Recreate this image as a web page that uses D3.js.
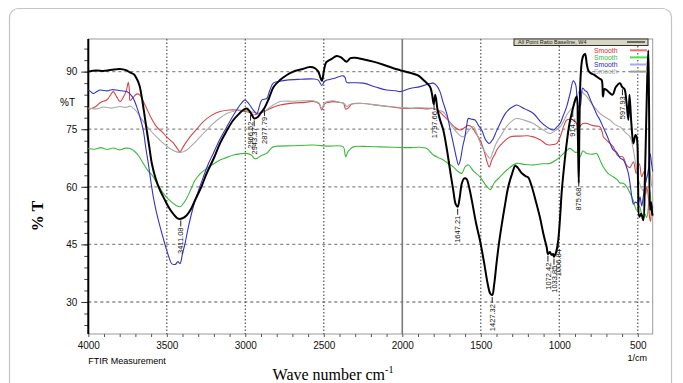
<!DOCTYPE html>
<html>
<head>
<meta charset="utf-8">
<script src="https://cdn.jsdelivr.net/npm/d3@7"></script>
<style>
  body { margin: 0; background: #fff; }
  svg { display: block; }
</style>
</head>
<body>
<svg id="chart" width="683" height="383"></svg>
<script>
// --- data: [wave number (cm-1), %T] ---
const blackSpectrum = [[4000,90.0],[3950,90.3],[3900,90.2],[3850,90.5],[3800,90.7],[3760,90.4],[3735,89.8],[3710,89.3],[3692,88.2],[3675,86.5],[3660,83.5],[3645,79.5],[3628,74.8],[3610,70],[3596,66.2],[3570,62],[3543,59.1],[3515,56.8],[3490,54.8],[3460,53],[3427,51.7],[3400,51.8],[3373,52.6],[3345,54.3],[3320,56.5],[3280,60],[3246,63.5],[3200,67.5],[3161,71.3],[3120,74.5],[3076,77.4],[3040,79],[3013,80],[2990,80.4],[2966,79.3],[2943,77.8],[2920,78.2],[2900,79.3],[2877,80.6],[2850,83],[2820,86],[2779,87.8],[2740,89],[2694,90],[2640,90.6],[2590,91.2],[2560,91],[2535,90],[2522,88.5],[2512,87.6],[2500,90],[2485,92.4],[2450,93.3],[2418,94.1],[2390,93.7],[2365,92.8],[2354,92.6],[2330,93.5],[2300,93.6],[2250,93.2],[2185,92.6],[2120,91.8],[2057,90.9],[2015,90.4],[1951,89.7],[1900,89],[1860,87.6],[1824,86.1],[1810,84],[1800,81.5],[1790,84],[1775,80],[1760,77.5],[1739,74.8],[1715,69.5],[1696,64.4],[1675,59],[1660,55.5],[1647,54.8],[1635,57],[1620,61],[1605,62.2],[1590,62],[1575,60],[1555,56],[1530,50.5],[1505,46],[1480,40.5],[1455,34.5],[1440,32.2],[1427,31.8],[1415,34.5],[1400,40],[1385,45],[1367,50],[1345,55.5],[1325,60],[1300,63.5],[1280,65.5],[1265,65],[1240,63.6],[1215,62.8],[1197,62.4],[1175,60],[1150,56.3],[1123,52],[1100,47.5],[1080,44.2],[1072,42.5],[1060,43],[1050,42.3],[1040,42.5],[1034,41.8],[1020,43],[1007,46],[995,52],[984,59],[970,65],[953,71.3],[935,76.5],[914,80.3],[900,82.5],[889,83.5],[882,74],[876,61],[872,75],[865,88],[855,93],[845,94.3],[836,94.6],[825,92],[815,90.3],[800,89.6],[780,89.2],[762,88.7],[745,88.2],[730,87.8],[722,83.5],[712,85.5],[698,85.2],[680,84.5],[660,84],[640,86],[613,87],[600,86],[585,85.5],[572,82],[560,77.4],[553,84],[540,76],[528,71.3],[515,73.5],[507,73],[498,60],[490,52.2],[478,53],[465,51.3],[455,62],[447,75.7],[440,88],[433,95.5],[428,80],[422,54],[415,56],[408,53],[405,52.5]];

const redSpectrum = [[4000,80.2],[3980,80.4],[3950,81],[3920,82],[3883,82.6],[3860,83.8],[3841,84.8],[3820,83.5],[3798,82.2],[3775,83.5],[3758,85],[3745,87.2],[3738,85],[3734,82.5],[3710,83.5],[3690,84.2],[3671,83.9],[3650,82.3],[3628,80.4],[3600,78],[3564,75.6],[3530,74.3],[3501,73],[3460,71.5],[3430,69.8],[3416,69.1],[3390,70.8],[3352,73],[3310,75],[3267,77],[3215,78.6],[3161,79.6],[3100,80],[3055,80],[3000,79.6],[2970,79.3],[2949,78.7],[2920,79],[2885,79.5],[2840,80.4],[2779,81.3],[2700,81.8],[2620,82],[2567,82.2],[2530,81.6],[2513,80],[2495,81.6],[2470,82],[2439,82.2],[2400,82],[2375,81.8],[2360,80.2],[2345,80.5],[2320,81.6],[2248,81.7],[2150,81.2],[2050,80.7],[1951,80.4],[1900,80.5],[1850,80.3],[1802,80.4],[1770,79.8],[1739,78.6],[1700,77],[1665,75.5],[1632,74.8],[1600,75.5],[1580,76],[1558,75.6],[1530,73.8],[1505,72.2],[1480,69.5],[1460,66.5],[1446,65.2],[1430,67],[1410,68.5],[1398,69.6],[1360,71.5],[1314,73],[1250,73.2],[1200,73.3],[1165,73],[1120,72.2],[1080,71],[1059,70.9],[1040,71],[1016,71.3],[990,73.5],[970,76],[953,77.4],[930,77.6],[911,77.4],[890,76.5],[879,72],[870,75.5],[850,76.5],[825,76.5],[790,76],[760,75.8],[741,75.6],[725,74],[719,73],[690,71.8],[656,70.4],[625,68],[595,67.8],[570,65.5],[550,65],[528,66.5],[510,63.5],[490,66],[475,62.6],[460,64],[450,58],[443,60],[432,57],[425,52],[418,51],[412,55],[405,54.5]];

const greenSpectrum = [[4000,70],[3960,69.8],[3920,70.2],[3880,69.7],[3840,70.1],[3800,69.6],[3770,70],[3734,70],[3710,69.4],[3692,68.7],[3670,67.5],[3650,66.1],[3620,64.2],[3586,62.6],[3555,60.3],[3522,58.3],[3490,56.8],[3459,55.7],[3435,55],[3416,54.8],[3395,55.6],[3373,57],[3345,59.5],[3320,61.7],[3285,63.5],[3246,64.8],[3200,66],[3161,67],[3120,67.6],[3076,68.3],[3030,68.6],[2991,68.7],[2960,68.2],[2940,67.3],[2927,67.4],[2900,68.1],[2864,68.7],[2840,69.8],[2822,70.4],[2700,70.7],[2567,70.9],[2480,70.6],[2376,70.4],[2365,68.5],[2360,67.8],[2345,69.2],[2312,70.4],[2220,70.5],[2142,70.4],[2050,70.3],[1951,70.2],[1900,70.3],[1844,70],[1820,69],[1802,68.3],[1770,67.6],[1739,67],[1705,66],[1675,65.2],[1645,64],[1621,63.5],[1600,65.2],[1579,65.7],[1545,64],[1505,62.6],[1470,60.5],[1445,59.4],[1437,59.3],[1415,61],[1377,62.6],[1330,64.5],[1271,66.1],[1220,65.8],[1165,65.7],[1110,66],[1059,66.1],[1020,67],[995,67.8],[960,69.2],[932,70],[900,69],[880,69],[868,67.8],[850,69.3],[825,68.7],[790,68.5],[762,68.7],[741,67],[720,65.2],[690,63.5],[656,62.6],[630,61.8],[613,61],[592,60.9],[570,60],[549,58.3],[530,56.5],[507,53.9],[490,55],[475,52.5],[465,51.3],[455,53],[443,52],[430,56],[422,59],[412,53],[405,55]];

const blueSpectrum = [[4000,85.2],[3985,84.8],[3968,84.3],[3945,84.8],[3925,85.2],[3880,85],[3850,85.3],[3819,85.2],[3790,85],[3755,84.8],[3720,83.5],[3692,80.9],[3670,78],[3650,74.8],[3635,70.5],[3618,66.1],[3600,61],[3586,57.4],[3565,53.2],[3543,49.6],[3520,46.2],[3501,43.5],[3485,41.5],[3469,40],[3445,39.8],[3430,40.5],[3416,40],[3400,42.6],[3384,45.2],[3360,50],[3331,54.8],[3300,58.8],[3267,62.6],[3235,66],[3204,68.7],[3160,72.5],[3118,75.6],[3085,78],[3055,80],[3030,81.5],[3002,82.6],[2975,81.5],[2949,80],[2927,79.1],[2910,81],[2895,82.6],[2864,83],[2845,85],[2822,87],[2780,87.5],[2736,87.8],[2650,88],[2567,88.1],[2535,87.8],[2513,86.4],[2495,87.5],[2481,87.8],[2430,88.3],[2376,88.9],[2365,88.5],[2354,87.2],[2320,87.1],[2248,87],[2170,86],[2099,85.2],[2040,85],[2015,84.8],[1951,85.6],[1887,86.1],[1840,86.7],[1802,87],[1780,86.3],[1760,84.8],[1740,82],[1717,79.1],[1695,75],[1675,71.3],[1655,67.5],[1642,65.7],[1630,67],[1615,70.5],[1601,73],[1590,76],[1579,77.8],[1560,77.6],[1537,77.4],[1515,76],[1494,74.8],[1470,72.3],[1446,71.3],[1430,72],[1420,72.6],[1400,74.5],[1377,76.5],[1345,79],[1314,80.4],[1290,81],[1271,81.3],[1220,80.3],[1165,79.1],[1120,77],[1080,75.6],[1055,75],[1038,74.8],[1015,75.6],[995,76.5],[975,78.5],[953,80.9],[930,84.5],[911,87.6],[895,86.5],[880,80.9],[868,81],[851,85.7],[835,85],[825,84.8],[800,82.5],[783,80.9],[760,78.8],[741,77.4],[720,75.5],[698,73.5],[676,71.3],[656,69.6],[634,69],[612,67.5],[592,67],[575,65.5],[560,63.5],[545,59.5],[538,57.4],[528,55.5],[515,56],[497,55.7],[486,57.4],[475,55],[465,57.4],[455,60],[445,62],[433,64],[422,68.7],[412,66],[405,64]];

const graySpectrum = [[4000,80.5],[3950,80.3],[3900,80.8],[3850,80.5],[3800,80.9],[3760,80.7],[3734,81],[3700,80],[3671,78.3],[3640,76.5],[3607,74.8],[3565,73],[3522,71.3],[3480,70],[3437,69.1],[3405,69],[3373,69.6],[3330,71.2],[3288,73],[3245,74.8],[3204,76.5],[3160,78],[3118,79.1],[3075,79.7],[3034,80],[2990,79.9],[2949,79.4],[2920,79.2],[2885,79.5],[2840,80.8],[2779,82.2],[2700,82.3],[2620,82.4],[2567,82.4],[2530,81.8],[2513,80.4],[2495,81.9],[2470,82.3],[2439,82.4],[2400,82],[2370,81.7],[2354,80.9],[2330,81.5],[2248,81.7],[2150,81.2],[2050,80.8],[1951,80.5],[1880,80.6],[1802,80.4],[1770,80],[1739,79.5],[1720,78.5],[1696,76.5],[1660,74.5],[1630,73.3],[1611,73],[1580,74.5],[1548,75.7],[1510,72],[1480,69.5],[1455,68],[1441,67.4],[1420,69.5],[1400,71.5],[1377,73],[1330,76],[1290,77.5],[1271,77.8],[1220,77.3],[1165,76.5],[1110,75],[1059,73.9],[1030,74.5],[995,75.6],[970,77.3],[953,78.7],[930,80],[911,80.9],[890,83],[868,85.2],[845,84.3],[825,83.5],[800,82],[783,81],[760,80],[741,79.1],[710,78.2],[677,77.4],[645,76.2],[613,75.6],[580,74.2],[549,73],[530,70],[507,64.4],[490,61],[465,59],[445,62],[430,65],[422,64],[410,60],[405,61]];

const legendNames = ["Smooth", "Smooth", "Smooth", "Smooth"];
const legendTitle = "All Point Ratio Baseline, W4";

const peakWaves  = [3411.08, 2966.52, 2943.37, 2877.79, 1797.66, 1647.21, 1427.32, 1072.42, 1033.85, 1006.84, 914.2, 875.68, 597.93];
const peakLabels = ["3411.08", "2966.52", "2943.37", "2877.79", "1797.66", "1647.21", "1427.32", "1072.42", "1033.85", "1006.84", "914.2", "875.68", "597.93"];

const xTickValues = [4000, 3500, 3000, 2500, 2000, 1500, 1000, 500];
const yTickValues = [30, 45, 60, 75, 90];

// --- layout ---
const svg = d3.select('#chart');
const plot = { left: 88.3, right: 652.7, top: 39, bottom: 334 };

const x = d3.scaleLinear().domain([4000, 405]).range([plot.left, plot.right]);
const y = d3.scaleLinear().domain([21.66, 98.5]).range([plot.bottom, plot.top]);

// outer figure frame
svg.append('rect')
    .attr('x', 9.5).attr('y', 8.5)
    .attr('width', 662).attr('height', 420)
    .attr('rx', 9)
    .attr('fill', 'none')
    .attr('stroke', '#c4c4c4')
    .attr('stroke-width', 1.2);

// plot frame
svg.append('rect')
    .attr('x', plot.left).attr('y', plot.top)
    .attr('width', plot.right - plot.left).attr('height', plot.bottom - plot.top)
    .attr('fill', 'none')
    .attr('stroke', '#9a9a9a')
    .attr('stroke-width', 1);

// grid
const grid = svg.append('g').attr('class', 'grid');
grid.selectAll('line.h')
    .data(yTickValues)
    .enter().append('line')
    .attr('class', 'h')
    .attr('x1', plot.left).attr('x2', plot.right)
    .attr('y1', d => y(d)).attr('y2', d => y(d))
    .attr('stroke', '#8a8a8a')
    .attr('stroke-width', 1.3)
    .attr('stroke-dasharray', '3,3');

grid.selectAll('line.v')
    .data(xTickValues.filter(d => d !== 4000))
    .enter().append('line')
    .attr('class', 'v')
    .attr('x1', d => x(d)).attr('x2', d => x(d))
    .attr('y1', plot.top).attr('y2', plot.bottom)
    .attr('stroke', d => d === 2000 ? '#7a7a7a' : '#555')
    .attr('stroke-width', d => d === 2000 ? 1.6 : 1.2)
    .attr('stroke-dasharray', d => d === 2000 ? null : '1.5,2');

// x axis
const xMinor = d3.range(4000, 400, -100);
svg.append('g')
    .attr('transform', `translate(0,${plot.bottom})`)
    .call(d3.axisBottom(x).tickValues(xMinor).tickSize(3).tickFormat(''))
    .call(g => g.select('.domain').remove())
    .call(g => g.selectAll('line').attr('stroke', '#555'));

svg.append('g')
    .attr('transform', `translate(0,${plot.bottom})`)
    .call(d3.axisBottom(x).tickValues(xTickValues).tickSize(0).tickPadding(8).tickFormat(d3.format('d')))
    .call(g => g.select('.domain').remove())
    .call(g => g.selectAll('text')
        .attr('font-family', 'Liberation Sans, Arial, sans-serif')
        .attr('font-size', 10)
        .attr('fill', '#111'));

// y axis
const yMinor = d3.range(24, 98, 3);
svg.append('g')
    .attr('transform', `translate(${plot.left},0)`)
    .call(d3.axisLeft(y).tickValues(yMinor).tickSize(4).tickFormat(''))
    .call(g => g.select('.domain').remove())
    .call(g => g.selectAll('line').attr('stroke', '#444'));

svg.append('g')
    .attr('transform', `translate(${plot.left},0)`)
    .call(d3.axisLeft(y).tickValues(yTickValues).tickSize(7).tickPadding(4).tickFormat(d3.format('d')))
    .call(g => g.select('.domain').remove())
    .call(g => g.selectAll('line').attr('stroke', '#333'))
    .call(g => g.selectAll('text')
        .attr('font-family', 'Liberation Sans, Arial, sans-serif')
        .attr('font-size', 10)
        .attr('fill', '#111'));

svg.append('line')
    .attr('x1', plot.left).attr('x2', plot.left)
    .attr('y1', plot.top).attr('y2', plot.bottom)
    .attr('stroke', '#000')
    .attr('stroke-width', 2);

// small texts in the spectrometer style
const sans = 'Liberation Sans, Arial, sans-serif';
svg.append('text')
    .attr('x', 75).attr('y', y(82) + 3.5)
    .attr('text-anchor', 'end')
    .attr('font-family', sans).attr('font-size', 10)
    .text('%T');

svg.append('text')
    .attr('x', plot.left).attr('y', 364)
    .attr('font-family', sans).attr('font-size', 9)
    .text('FTIR Measurement');

svg.append('text')
    .attr('x', 647).attr('y', 361)
    .attr('text-anchor', 'end')
    .attr('font-family', sans).attr('font-size', 9)
    .text('1/cm');

// axis titles
const serif = 'Liberation Serif, Times New Roman, serif';
svg.append('text')
    .attr('transform', 'translate(43,216) rotate(-90)')
    .attr('text-anchor', 'middle')
    .attr('font-family', serif).attr('font-size', 16).attr('font-weight', 'bold')
    .text('% T');

const xTitle = svg.append('text')
    .attr('x', 333).attr('y', 380)
    .attr('text-anchor', 'middle')
    .attr('font-family', serif).attr('font-size', 16);
xTitle.append('tspan').text('Wave number cm');
xTitle.append('tspan').attr('font-size', 10).attr('dy', -7).text('-1');

// spectra
const line = d3.line()
    .x(d => x(d[0]))
    .y(d => y(d[1]))
    .curve(d3.curveCatmullRom.alpha(0.5));

const spectra = [
    { data: greenSpectrum, color: '#3cb93c', width: 1.1 },
    { data: redSpectrum,   color: '#d64545', width: 1.1 },
    { data: graySpectrum,  color: '#a9a9a9', width: 1.1 },
    { data: blueSpectrum,  color: '#3434c4', width: 1.1 },
    { data: blackSpectrum, color: '#000',    width: 2 }
];

const gSpectra = svg.append('g').attr('class', 'spectra');
gSpectra.selectAll('path')
    .data(spectra)
    .enter().append('path')
    .attr('d', d => line(d.data))
    .attr('fill', 'none')
    .attr('stroke', d => d.color)
    .attr('stroke-width', d => d.width)
    .attr('stroke-linejoin', 'round');

// peak labels on the black spectrum
function valueAt(data, wn) {
    for (let i = 0; i < data.length - 1; i++) {
        const a = data[i], b = data[i + 1];
        if (wn <= a[0] && wn >= b[0]) {
            const t = (a[0] - wn) / (a[0] - b[0]);
            return a[1] + t * (b[1] - a[1]);
        }
    }
    return data[data.length - 1][1];
}

const gPeaks = svg.append('g').attr('class', 'peaks');
peakWaves.forEach((wn, i) => {
    const px = x(wn);
    const py = y(valueAt(blackSpectrum, wn));
    const top = py + 9;
    gPeaks.append('line')
        .attr('x1', px).attr('x2', px)
        .attr('y1', py + 2).attr('y2', top - 1)
        .attr('stroke', '#222').attr('stroke-width', 1);
    gPeaks.append('text')
        .attr('transform', `translate(${px},${top}) rotate(-90)`)
        .attr('text-anchor', 'end')
        .attr('dy', '0.35em')
        .attr('font-family', sans).attr('font-size', 7.5)
        .attr('fill', '#111')
        .text(peakLabels[i]);
});

// legend
const legend = svg.append('g').attr('class', 'legend');
legend.append('rect')
    .attr('x', 514).attr('y', 39)
    .attr('width', 134).attr('height', 6.5)
    .attr('fill', '#d9d6c4')
    .attr('stroke', '#333')
    .attr('stroke-width', 1);
legend.append('text')
    .attr('x', 518).attr('y', 44.3)
    .attr('font-family', sans).attr('font-size', 5.5)
    .attr('fill', '#222')
    .text(legendTitle);
legend.append('line')
    .attr('x1', 627).attr('x2', 645)
    .attr('y1', 42).attr('y2', 42)
    .attr('stroke', '#222').attr('stroke-width', 1.2);

const legendText = ['#e02a2a', '#3cb93c', '#2a2ab8', '#a8a8a8'];
const legendSwatch = ['#f07070', '#50e050', '#a8a8f8', '#9c9c9c'];
legendNames.forEach((name, i) => {
    const ly = 50.3 + i * 7.1;
    legend.append('text')
        .attr('x', 594).attr('y', ly + 2.4)
        .attr('font-family', sans).attr('font-size', 6.8)
        .attr('fill', legendText[i])
        .text(name);
    legend.append('line')
        .attr('x1', 630).attr('x2', 647)
        .attr('y1', ly).attr('y2', ly)
        .attr('stroke', legendSwatch[i]).attr('stroke-width', 2);
});
</script>
</body>
</html>
